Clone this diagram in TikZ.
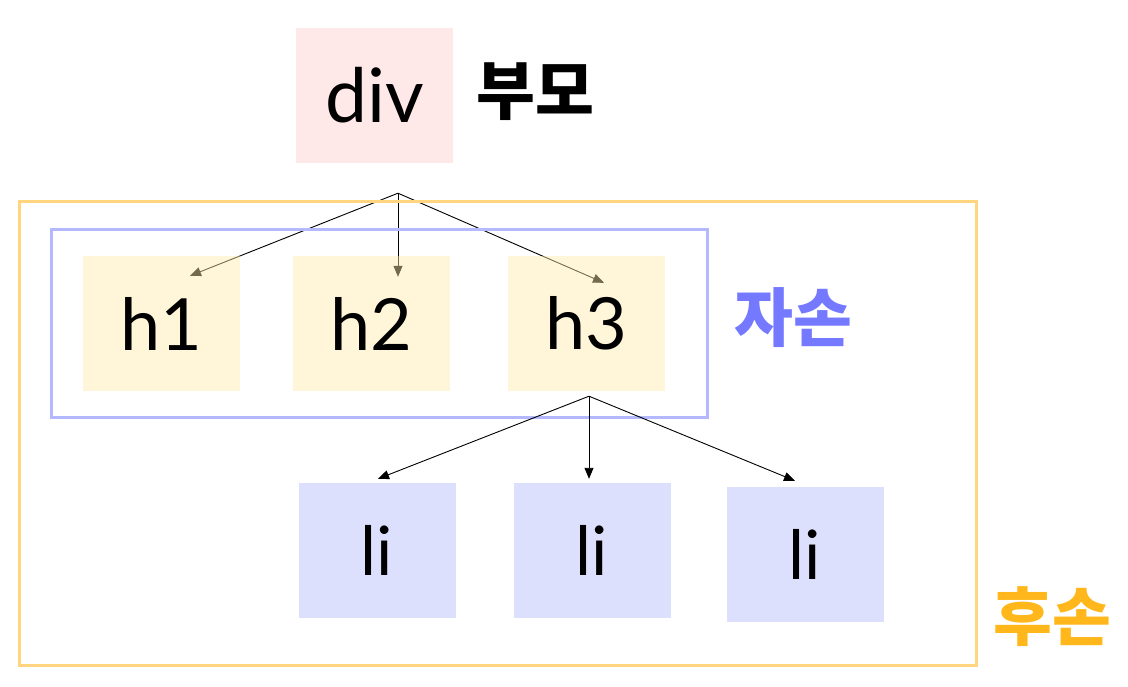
\documentclass[tikz,border=0pt]{standalone}
\usepackage{fontspec}
\newfontfamily\kr{Noto Sans CJK KR}
\newfontfamily\boxfont{Lato}
\usepackage{xcolor}
\usetikzlibrary{arrows.meta}
\pgfdeclarelayer{bg}
\pgfsetlayers{bg,main}
\definecolor{divpink}{HTML}{FFE8E8}
\definecolor{hyellow}{HTML}{FFE9A8}
\definecolor{liblue}{HTML}{DCE0FD}
\definecolor{frameorange}{HTML}{FFD580}
\definecolor{frameblue}{HTML}{B4B8FF}
\definecolor{tagblue}{HTML}{7479FF}
\definecolor{tagorange}{HTML}{FFB71B}

\begin{document}
\begin{tikzpicture}[x=1pt,y=-1pt,
    box/.style={minimum width=157pt,minimum height=135pt,inner sep=0pt,
      font=\boxfont\fontsize{72}{78}\selectfont},
    divbox/.style={box,fill=divpink,font=\boxfont\fontsize{75}{80}\selectfont},
    hbox/.style={box,fill=hyellow,fill opacity=0.45,text opacity=1},
    libox/.style={box,fill=liblue,font=\boxfont\fontsize{68}{74}\selectfont},
    tag/.style={inner sep=0pt,font=\kr\bfseries\fontsize{64}{70}\selectfont},
    link/.style={-{Triangle[length=11pt,width=9pt]},line width=0.9pt}]
    \useasboundingbox (0,0) rectangle (1128,687);
    % frames
    \draw[frameorange,line width=3pt] (19,202) rectangle (976,665);
    \draw[frameblue,line width=3pt] (51,230) rectangle (707,417);
    % boxes
    \node[divbox] (div) at (374.5,95.5) {div};
    \node[hbox] (h1) at (161,323.5) {h1};
    \node[hbox] (h2) at (371,323.5) {h2};
    \node[hbox] (h3) at (586,323.5) {h3};
    \node[libox] (li1) at (377,550.5) {li};
    \node[libox] (li2) at (592,550.5) {li};
    \node[libox] (li3) at (805,554.5) {li};
    % labels
    \node[tag] (parent) at (535,92) {부모};
    \node[tag,text=tagblue] (child) at (793,318) {자손};
    \node[tag,text=tagorange] (desc) at (1052,617) {후손};
    % links
    \coordinate (divsplit) at ([shift={(23.5,30)}]div.south);
    \coordinate (h3split) at ([shift={(3,5)}]h3.south);
    \begin{pgfonlayer}{bg}
      \draw[link] (divsplit) -- ([shift={(29,20)}]h1.north);
      \draw[link] (divsplit) -- ([shift={(27,21)}]h2.north);
      \draw[link] (divsplit) -- ([shift={(18,27)}]h3.north);
    \end{pgfonlayer}
    \draw[link] (h3split) -- ([shift={(1,-4)}]li1.north);
    \draw[link] (h3split) -- ([shift={(-3,-4)}]li2.north);
    \draw[link] (h3split) -- ([shift={(-10,-6)}]li3.north);
\end{tikzpicture}
\end{document}
